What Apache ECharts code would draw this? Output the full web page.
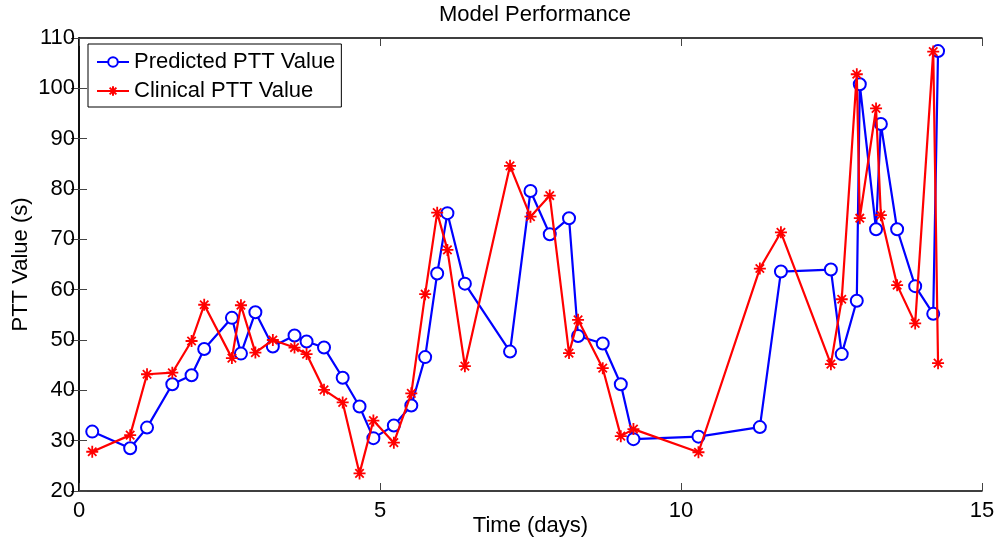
<!DOCTYPE html>
<html>
<head>
<meta charset="utf-8">
<script src="https://cdn.jsdelivr.net/npm/echarts@6/dist/echarts.min.js"></script>
<style>
  html, body { margin: 0; padding: 0; background: #fff; }
  #chart { width: 998px; height: 546px; }
</style>
</head>
<body>
<div id="chart"></div>
<script>
const days = [0.22, 0.85, 1.13, 1.55, 1.87, 2.08, 2.54, 2.69, 2.93, 3.22, 3.58, 3.78, 4.07, 4.38, 4.66, 4.89, 5.23,
    5.52, 5.75, 5.95, 6.12, 6.41, 7.16, 7.50, 7.82, 8.14, 8.29, 8.70, 9.00, 9.21,
    10.29, 11.31, 11.66, 12.49, 12.67, 12.92, 12.97, 13.24, 13.32, 13.59, 13.89, 14.19, 14.27];
const predicted = [31.8, 28.5, 32.6, 41.2, 43.0, 48.2, 54.4, 47.3, 55.5, 48.7, 50.9, 49.7, 48.5, 42.5, 36.8, 30.5, 33.0,
    37.0, 46.6, 63.2, 75.2, 61.2, 47.7, 79.6, 71.0, 74.2, 50.8, 49.3, 41.2, 30.3,
    30.8, 32.7, 63.6, 64.0, 47.2, 57.8, 100.8, 72.0, 92.9, 72.0, 60.7, 55.2, 107.4];
const clinical = [27.8, 31.1, 43.2, 43.5, 49.8, 57.0, 46.4, 56.9, 47.5, 50.0, 48.5, 47.2, 40.1, 37.6, 23.5, 34.0, 29.6,
    39.4, 59.1, 75.3, 67.9, 44.8, 84.6, 74.5, 78.7, 47.4, 54.0, 44.4, 30.9, 32.3,
    27.7, 64.2, 71.4, 45.2, 58.1, 102.8, 74.2, 96.0, 74.8, 60.9, 53.3, 107.3, 45.4];
const xRange = [0, 15, 5];
const yRange = [20, 110, 10];

const font = 'Liberation Sans, Arial, sans-serif';
const fs = 22;
const star = 'path://M0,-5L0,5M-5,0L5,0M-3.5,-3.5L3.5,3.5M-3.5,3.5L3.5,-3.5';

function pairs(vals) {
    return days.map((d, i) => [d, vals[i]]);
}

const boxAxis = (extra) => Object.assign({
    axisLine: { show: true, lineStyle: { color: '#000', width: 1.5 } },
    axisTick: { show: true, inside: true, length: 8, lineStyle: { color: '#444', width: 1 } },
    splitLine: { show: false },
}, extra);

const chart = echarts.init(document.getElementById('chart'));
chart.setOption({
    animation: false,
    backgroundColor: '#fff',
    textStyle: { fontFamily: font },
    title: {
        text: 'Model Performance',
        left: 530, top: -1, textAlign: 'center',
        textStyle: { fontFamily: font, fontSize: fs, fontWeight: 'normal', color: '#000' },
    },
    legend: {
        orient: 'vertical',
        left: 88, top: 44,
        padding: [6, 6, 4, 8],
        backgroundColor: '#fff',
        borderColor: '#000', borderWidth: 1,
        itemWidth: 32, itemHeight: 12, itemGap: 5,
        textStyle: { fontFamily: font, fontSize: fs, color: '#000', lineHeight: 24 },
        data: ['Predicted PTT Value', 'Clinical PTT Value'],
    },
    grid: { left: 79, right: 16, top: 38, bottom: 55, containLabel: false, outerBoundsMode: 'none' },
    xAxis: [
        boxAxis({
            type: 'value', min: xRange[0], max: xRange[1], interval: xRange[2],
            name: 'Time (days)', nameLocation: 'middle', nameGap: 24, nameMoveOverlap: false,
            nameTextStyle: { fontFamily: font, fontSize: fs, color: '#000' },
            axisLabel: { fontFamily: font, fontSize: fs, color: '#000', margin: 9 },
        }),
        boxAxis({
            type: 'value', position: 'top', min: xRange[0], max: xRange[1], interval: xRange[2],
            axisLabel: { show: false },
        }),
    ],
    yAxis: [
        boxAxis({
            type: 'value', min: yRange[0], max: yRange[1], interval: yRange[2],
            name: 'PTT Value (s)', nameLocation: 'middle', nameGap: 47, nameMoveOverlap: false,
            nameTextStyle: { fontFamily: font, fontSize: fs, color: '#000' },
            axisLabel: { fontFamily: font, fontSize: fs, color: '#000', margin: 4 },
        }),
        boxAxis({
            type: 'value', position: 'right', min: yRange[0], max: yRange[1], interval: yRange[2],
            axisLabel: { show: false },
        }),
    ],
    series: [
        {
            name: 'Predicted PTT Value', type: 'line', data: pairs(predicted),
            symbol: 'emptyCircle', symbolSize: 12,
            lineStyle: { color: '#0000ff', width: 2.2 },
            itemStyle: { color: '#0000ff', borderColor: '#0000ff', borderWidth: 2.2 },
            z: 2,
        },
        {
            name: 'Clinical PTT Value', type: 'line', data: pairs(clinical),
            symbol: star, symbolSize: 12,
            lineStyle: { color: '#ff0000', width: 2.2 },
            itemStyle: { color: '#ff0000', borderColor: '#ff0000', borderWidth: 1.8 },
            z: 3,
        },
    ],
});
</script>
</body>
</html>
